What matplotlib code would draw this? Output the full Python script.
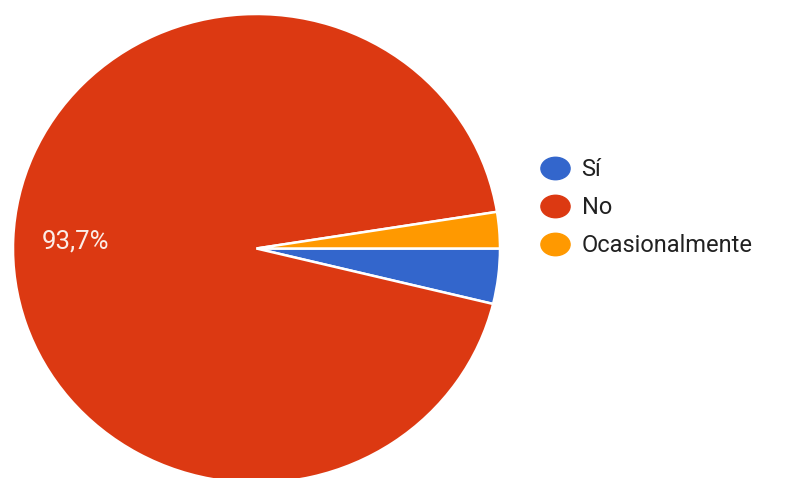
import matplotlib
matplotlib.use("Agg")
import matplotlib.pyplot as plt
from matplotlib.lines import Line2D
from matplotlib.path import Path
from matplotlib.transforms import Affine2D

# data
labels = ["Sí", "No", "Ocasionalmente"]
values = [3.8, 93.7, 2.5]
colors = ["#3366CC", "#DC3912", "#FF9900"]

plt.rcParams['font.family'] = ['Roboto', 'DejaVu Sans']

fig = plt.figure(figsize=(7.89, 4.78), dpi=100)
# pie area in pixels: x 13..500, y 14..483 (slightly squashed, cut at bottom)
ax = fig.add_axes([13/789, -5/478, 487/789, 469/478])

def pct_fmt(p):
    # only the big slice gets a label
    return ("%.1f%%" % p).replace(".", ",") if p > 10 else ""

wedges, texts, autotexts = ax.pie(values, colors=colors, startangle=0,
                                  counterclock=False, autopct=pct_fmt,
                                  pctdistance=0.745,
                                  wedgeprops=dict(edgecolor="white", linewidth=1.8))
for t in autotexts:
    t.set_color("#FBEDE8")
    t.set_fontsize(18.5)
ax.set_aspect("auto")
ax.set_xlim(-1, 1)
ax.set_ylim(-1, 1)
ax.axis("off")

# legend dots are a bit wider than tall in the reference
oval = Path.unit_circle().transformed(Affine2D().scale(1.3, 1.0))
handles = [Line2D([], [], marker=oval, linestyle="", markersize=21,
                  markerfacecolor=c, markeredgecolor=c) for c in colors]
leg = fig.legend(handles, labels, loc="upper left",
                 bbox_to_anchor=(541/789, 1 - 158/478), frameon=False,
                 fontsize=17, labelspacing=0.64, handletextpad=0.52,
                 handlelength=1.2, borderaxespad=0, borderpad=0)
for t in leg.get_texts():
    t.set_color("#212121")

fig.savefig("out.png", dpi=100)
